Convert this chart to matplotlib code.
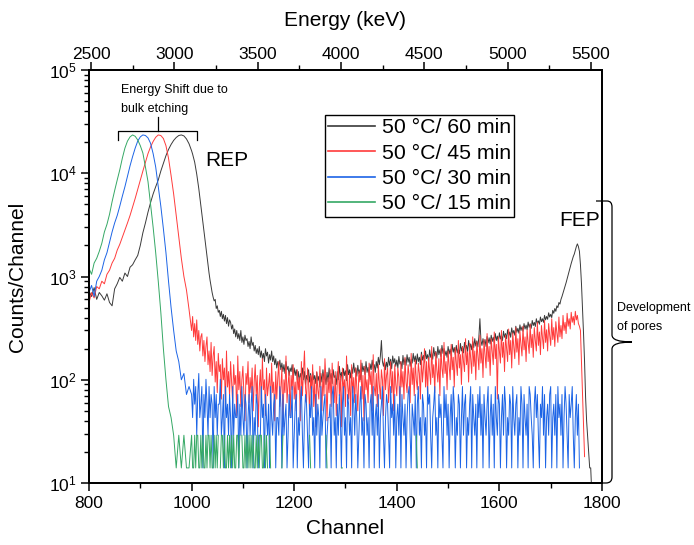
import numpy as np
import matplotlib
matplotlib.use("Agg")
import matplotlib.pyplot as plt
from matplotlib.path import Path
from matplotlib.patches import PathPatch
from matplotlib.lines import Line2D
from matplotlib.ticker import LogLocator, MultipleLocator, NullFormatter

plt.rcParams['font.family'] = ['Liberation Sans', 'DejaVu Sans']
plt.rcParams['mathtext.fontset'] = 'custom'
plt.rcParams['mathtext.rm'] = 'Liberation Sans'
plt.rcParams['mathtext.it'] = 'Liberation Sans:italic'
plt.rcParams['mathtext.bf'] = 'Liberation Sans:bold'

# ---------------- data ----------------
# peak region sampled every 5 channels from 800, tail every 2 channels from 1000
head_start, head_step = 800, 5
tail_start, tail_step = 1000, 2
energy_offset = 23.0     # keV  (calibration: E = offset + gain * channel)
energy_gain = 3.08       # keV / channel

series_labels = ["50 °C/ 60 min", "50 °C/ 45 min", "50 °C/ 30 min", "50 °C/ 15 min"]
series_colors = ["#3a3a3a", "#ff3b3b", "#1c64e6", "#35a865"]

head_60 = [720, 640, 780, 600, 700, 650, 590, 680, 560, 520,
           760, 850, 980, 900, 1080, 1000, 1230, 1300, 1450, 1600,
           2000, 2650, 3300, 4200, 5200, 6300, 7400, 8600, 10500, 12500,
           14800, 17000, 19000, 20800, 22200, 23200, 23500, 23000, 21500, 19300]
tail_60 = [
    16500, 15300, 14000, 12800, 11200, 9800, 8400, 7100, 5900, 4900, 4100, 3400, 2800, 2300, 1900, 1550, 1300, 1080, 920, 800,
    700, 630, 580, 600, 490, 520, 450, 470, 410, 460, 390, 430, 370, 420, 350, 400, 330, 380, 360, 310,
    340, 280, 310, 260, 300, 250, 280, 240, 300, 230, 260, 220, 270, 240, 250, 210, 235, 200, 260, 215,
    230, 190, 215, 180, 200, 175, 210, 165, 190, 160, 180, 150, 200, 170, 185, 145, 175, 155, 190, 150,
    170, 140, 160, 130, 150, 135, 155, 125, 145, 120, 140, 115, 150, 125, 135, 110, 130, 120, 140, 105,
    130, 110, 125, 100, 120, 95, 115, 105, 130, 100, 120, 90, 110, 100, 125, 95, 115, 88, 120, 100,
    110, 92, 118, 98, 108, 85, 115, 95, 125, 100, 112, 90, 118, 95, 130, 102, 115, 92, 125, 105,
    110, 90, 120, 100, 135, 105, 118, 95, 128, 110, 122, 98, 140, 112, 125, 104, 132, 115, 145, 118,
    130, 108, 138, 115, 125, 100, 145, 120, 135, 112, 150, 118, 132, 110, 142, 125, 155, 128, 140, 118,
    150, 130, 165, 140, 170, 240, 150, 135, 155, 125, 148, 132, 165, 138, 158, 128, 170, 145, 160, 135,
    155, 130, 168, 142, 150, 128, 172, 140, 160, 138, 175, 148, 165, 135, 158, 145, 180, 150, 170, 142,
    178, 150, 165, 140, 185, 155, 172, 148, 190, 160, 175, 150, 195, 165, 182, 158, 205, 170, 188, 162,
    210, 175, 195, 168, 215, 180, 200, 172, 190, 165, 210, 178, 198, 170, 220, 185, 205, 175, 215, 182,
    200, 178, 225, 190, 210, 182, 230, 195, 215, 188, 240, 200, 222, 195, 235, 205, 250, 212, 238, 208,
    260, 390, 240, 215, 250, 220, 245, 210, 262, 228, 255, 222, 270, 235, 258, 228, 280, 240, 265, 232,
    285, 248, 270, 240, 295, 258, 280, 250, 305, 265, 290, 258, 318, 278, 300, 270, 330, 288, 315, 282,
    340, 300, 325, 295, 350, 310, 338, 305, 362, 322, 348, 315, 375, 335, 360, 328, 390, 350, 372, 345,
    405, 365, 390, 360, 420, 380, 410, 385, 445, 405, 430, 400, 470, 440, 490, 460, 520, 500, 560, 540,
    600, 640, 690, 740, 800, 870, 950, 1040, 1130, 1230, 1340, 1450, 1560, 1650, 1800, 1950, 2070, 1950, 1750, 1300,
    850, 500, 280, 150, 68, 40, 28, 20, 14, 14, 8, 5,
]

head_45 = [560, 700, 620, 800, 760, 900, 850, 1050, 1150, 1350,
           1500, 1800, 2050, 2400, 2800, 3300, 3900, 4700, 5700, 7000,
           8600, 10500, 12800, 15500, 18000, 20300, 22300, 23500, 23200, 21700,
           18500, 14000, 9500, 6300, 3900, 2400, 1500, 1000, 740, 480]
tail_45 = [
    300, 410, 260, 350, 240, 380, 220, 300, 190, 260, 280, 170, 240, 150, 210, 260, 140, 190, 120, 230,
    110, 170, 210, 95, 150, 75, 180, 120, 140, 65, 160, 100, 130, 55, 190, 85, 120, 70, 150, 95,
    60, 140, 90, 110, 45, 170, 80, 120, 55, 100, 135, 70, 40, 115, 90, 150, 60, 105, 75, 130,
    50, 95, 140, 70, 110, 35, 85, 125, 60, 160, 80, 100, 45, 130, 70, 90, 115, 55, 145, 75,
    95, 40, 120, 65, 105, 150, 55, 85, 130, 35, 100, 75, 170, 60, 90, 120, 45, 110, 80, 140,
    65, 95, 50, 125, 80, 105, 40, 150, 70, 115, 190, 85, 60, 130, 95, 45, 110, 75, 140, 55,
    100, 35, 120, 80, 65, 135, 90, 50, 115, 70, 160, 95, 40, 105, 75, 125, 55, 145, 85, 60,
    120, 45, 95, 150, 70, 110, 35, 130, 80, 100, 55, 170, 90, 65, 115, 45, 140, 75, 105, 60,
    130, 85, 50, 120, 95, 155, 65, 110, 40, 135, 80, 100, 60, 145, 90, 120, 50, 175, 85, 70,
    115, 55, 140, 90, 65, 125, 100, 45, 160, 80, 110, 130, 60, 95, 150, 75, 120, 50, 140, 90,
    70, 130, 105, 55, 150, 85, 120, 65, 165, 95, 75, 140, 110, 60, 180, 90, 130, 70, 155, 100,
    80, 145, 115, 65, 175, 95, 130, 200, 85, 150, 70, 165, 120, 90, 210, 105, 140, 75, 185, 125,
    95, 160, 70, 200, 130, 105, 230, 115, 150, 80, 190, 140, 100, 220, 125, 165, 85, 205, 145, 110,
    240, 130, 175, 90, 210, 150, 120, 250, 140, 185, 95, 225, 160, 115, 260, 135, 190, 100, 235, 170,
    125, 270, 145, 200, 105, 245, 175, 130, 280, 150, 210, 110, 250, 185, 140, 290, 160, 220, 65, 260,
    190, 145, 300, 165, 230, 120, 270, 200, 150, 310, 175, 240, 130, 285, 210, 160, 320, 185, 250, 140,
    295, 220, 170, 330, 195, 260, 150, 305, 230, 180, 345, 205, 275, 165, 320, 240, 190, 360, 215, 290,
    175, 335, 255, 200, 375, 230, 305, 190, 350, 270, 215, 390, 245, 320, 210, 365, 285, 230, 405, 260,
    335, 250, 420, 300, 360, 280, 440, 330, 390, 310, 450, 360, 410, 340, 460, 380, 420, 350, 330, 300,
    150, 80, 35, 18,
]

head_30 = [700, 820, 640, 900, 1000, 1150, 1450, 1700, 2150, 2700,
           3300, 3900, 4800, 6000, 7400, 9300, 11800, 14500, 17500, 20500,
           22500, 23500, 23200, 22000, 19500, 15500, 11500, 7400, 4800, 2900,
           1700, 900, 500, 300, 190, 150, 100, 115, 72, 86]
tail_30 = [
    72, 43, 101, 58, 86, 29, 72, 115, 43, 58, 86, 14, 72, 43, 101, 58, 29, 86, 43, 72,
    58, 14, 86, 43, 72, 29, 58, 58, 101, 29, 43, 72, 14, 86, 43, 58, 29, 72, 43, 14,
    86, 29, 58, 43, 43, 72, 14, 58, 29, 86, 43, 29, 72, 58, 14, 43, 72, 29, 58, 86,
    14, 43, 29, 72, 58, 14, 29, 29, 86, 43, 58, 14, 72, 43, 29, 58, 14, 86, 43, 29,
    58, 72, 14, 43, 43, 29, 86, 58, 14, 72, 29, 43, 58, 14, 29, 72, 43, 43, 86, 14,
    29, 58, 72, 14, 43, 29, 58, 86, 29, 14, 43, 72, 58, 29, 14, 58, 43, 86, 29, 43,
    14, 72, 29, 58, 43, 14, 86, 29, 43, 58, 72, 14, 29, 43, 43, 58, 14, 72, 86, 29,
    43, 14, 58, 29, 72, 43, 14, 58, 86, 29, 43, 14, 72, 58, 29, 43, 14, 86, 58, 29,
    72, 43, 14, 29, 58, 86, 29, 43, 14, 72, 58, 29, 43, 14, 58, 72, 29, 86, 14, 43,
    58, 29, 72, 14, 43, 58, 86, 29, 14, 43, 72, 58, 29, 14, 86, 43, 58, 29, 72, 14,
    43, 58, 29, 86, 14, 72, 43, 29, 58, 14, 43, 72, 86, 29, 14, 58, 43, 29, 72, 14,
    58, 86, 29, 43, 14, 72, 58, 29, 43, 14, 86, 58, 72, 29, 14, 43, 58, 86, 29, 43,
    14, 72, 43, 58, 29, 14, 86, 43, 72, 29, 58, 14, 43, 72, 29, 86, 58, 14, 43, 29,
    72, 58, 14, 43, 86, 29, 58, 72, 14, 43, 29, 58, 86, 14, 72, 43, 29, 58, 14, 72,
    43, 86, 29, 58, 14, 72, 43, 29, 58, 86, 14, 43, 72, 29, 58, 14, 86, 43, 29, 72,
    58, 14, 43, 72, 29, 86, 58, 14, 43, 29, 72, 58, 14, 86, 43, 29, 58, 72, 14, 43,
    29, 86, 58, 14, 72, 43, 29, 58, 14, 86, 72, 43, 29, 14, 58, 86, 43, 72, 29, 14,
    58, 43, 86, 29, 72, 14, 43, 58, 29, 72, 86, 14, 43, 58, 29, 72, 14, 86, 43, 58,
    29, 72, 14, 43, 86, 58, 29, 14, 72, 43, 58, 86, 29, 14, 43, 72, 29, 58, 14,
]

head_15 = [1200, 1050, 1350, 1500, 1750, 2100, 2700, 3200, 4000, 5300,
           6800, 8600, 10800, 14000, 17500, 20500, 22500, 23500, 22800, 21000,
           18500, 15700, 11500, 8300, 5000, 3000, 1700, 900, 450, 200,
           100, 55, 43, 29, 14, 29, 14, 29, 14, 14]
tail_15 = [
    29, 14, 14, 29, 14, 29, 29, 14, 14, 29, 14, 29, 14, 14, 29, 14, 29, 29, 14, 29,
    14, 14, 29, 14, 29, 14, 29, None, 14, 29, 29, 14, 29, 14, 14, 29, 14, 29, 14, 29,
    14, 29, 14, 14, 29, 29, 14, 29, None, 29, 14, 14, 29, 14, 29, 14, 29, 14, 29, 14,
    29, 14, 14, 29, 14, 29, 14, 29, 29, 14, 14, 29, 14, 29, 14, None, 29, 14, None,
]
# isolated single-count channels of the 15 min spectrum beyond the dense part
sparse_15_channels = [1176, 1178, None, 1230, 1232, None, 1262, 1264, None,
                      1292, 1294, None, 1438, 1440]
sparse_15_counts = [14, 29, None, 29, 14, None, 29, 14, None,
                    14, 14, None, 29, 14]

heads = [head_60, head_45, head_30, head_15]
tails = [tail_60, tail_45, tail_30, tail_15]

# ---------------- figure ----------------
W, H = 694, 545
fig = plt.figure(figsize=(W / 100, H / 100), dpi=100)

def fx(px):
    return px / W

def fy(py):
    return 1 - py / H

ax = fig.add_axes([fx(89), fy(483), (602 - 89) / W, (483 - 70) / H])

series_lines = []
for head, tail, lab, col in zip(heads, tails, series_labels, series_colors):
    yh = np.array(head, dtype=float)
    yt = np.array(tail, dtype=float)
    xh = head_start + head_step * np.arange(len(yh))
    xt = tail_start + tail_step * np.arange(len(yt))
    ln, = ax.plot(np.concatenate([xh, xt]), np.concatenate([yh, yt]),
                  color=col, lw=0.7)
    series_lines.append(ln)
ax.plot(np.array(sparse_15_channels, dtype=float), np.array(sparse_15_counts, dtype=float),
        color=series_colors[3], lw=0.7)

ax.set_yscale('log')
ax.set_xlim(800, 1800)
ax.set_ylim(10, 1e5)
ax.xaxis.set_major_locator(MultipleLocator(200))
ax.xaxis.set_minor_locator(MultipleLocator(100))
ax.yaxis.set_major_locator(LogLocator(base=10, numticks=10))
ax.yaxis.set_minor_locator(LogLocator(base=10, subs=np.arange(2, 10), numticks=50))
ax.yaxis.set_minor_formatter(NullFormatter())

for sp in ax.spines.values():
    sp.set_linewidth(1.3)

ax.tick_params(axis='both', which='major', direction='out', length=6, width=1.1,
               labelsize=12.5, pad=3)
ax.tick_params(axis='both', which='minor', direction='out', length=3.5, width=1.0)
ax.tick_params(axis='y', which='both', right=False)

ax.set_xlabel("Channel", fontsize=15)
ax.set_ylabel("Counts/Channel", fontsize=15)
ax.xaxis.set_label_coords(0.5, (483 - 528) / 413)
ax.xaxis.label.set_va('center')
ax.yaxis.set_label_coords((18 - 89) / 513, 0.5)
ax.yaxis.label.set_va('center')

# top energy axis
ax2 = ax.twiny()
ax2.set_xlim(energy_offset + energy_gain * 800, energy_offset + energy_gain * 1800)
ax2.xaxis.set_major_locator(MultipleLocator(500))
ax2.xaxis.set_minor_locator(MultipleLocator(250))
ax2.tick_params(axis='x', which='major', direction='out', length=6, width=1.1,
                labelsize=12.5, pad=0)
ax2.tick_params(axis='x', which='minor', direction='out', length=3.5, width=1.0)
ax2.set_xlabel("Energy (keV)", fontsize=15)
ax2.xaxis.set_label_coords(0.5, (483 - 20) / 413)
ax2.xaxis.label.set_va('center')
for sp in ax2.spines.values():
    sp.set_linewidth(1.3)

# legend (drawn on the top-most axes so nothing covers it)
leg = ax2.legend(series_lines, series_labels, loc='upper left',
                 bbox_to_anchor=(fx(325), fy(115)),
                 bbox_transform=fig.transFigure, fontsize=15.3, frameon=True,
                 fancybox=False, framealpha=1, edgecolor='black',
                 borderaxespad=0, borderpad=0.15, labelspacing=0.3,
                 handlelength=2.2, handletextpad=0.33)
leg.get_frame().set_linewidth(1.0)
for hl in leg.get_lines():
    hl.set_linewidth(1.2)

# annotations
fig.text(fx(205), fy(160), "REP", fontsize=15, ha='left', va='center')
fig.text(fx(559), fy(220), "FEP", fontsize=15, ha='left', va='center')
fig.text(fx(121), fy(90), "Energy Shift due to", fontsize=9, ha='left', va='center')
fig.text(fx(121), fy(109), "bulk etching", fontsize=9, ha='left', va='center')
fig.text(fx(617), fy(308), "Development", fontsize=9, ha='left', va='center')
fig.text(fx(617), fy(327), "of pores", fontsize=9, ha='left', va='center')

# bracket for energy shift
bx = [118, 118, 197, 197]
by = [140, 131, 131, 140]
fig.add_artist(Line2D([fx(v) for v in bx], [fy(v) for v in by],
                      transform=fig.transFigure, color='black', lw=0.9))
fig.add_artist(Line2D([fx(158), fx(158)], [fy(131), fy(117)],
                      transform=fig.transFigure, color='black', lw=0.9))

# curly brace for development of pores
pts = [(596, 201), (607, 201), (612, 201), (612, 207), (612, 335),
       (612, 342), (632, 342), (612, 342), (612, 349), (612, 477),
       (612, 483), (606, 483), (602, 483)]
codes = [Path.MOVETO, Path.LINETO, Path.CURVE3, Path.CURVE3, Path.LINETO,
         Path.CURVE3, Path.CURVE3, Path.CURVE3, Path.CURVE3, Path.LINETO,
         Path.CURVE3, Path.CURVE3, Path.LINETO]
brace = Path([(fx(a), fy(b)) for a, b in pts], codes)
fig.add_artist(PathPatch(brace, transform=fig.transFigure, fill=False,
                         edgecolor='black', lw=0.9))

fig.savefig("out.png", dpi=100)
